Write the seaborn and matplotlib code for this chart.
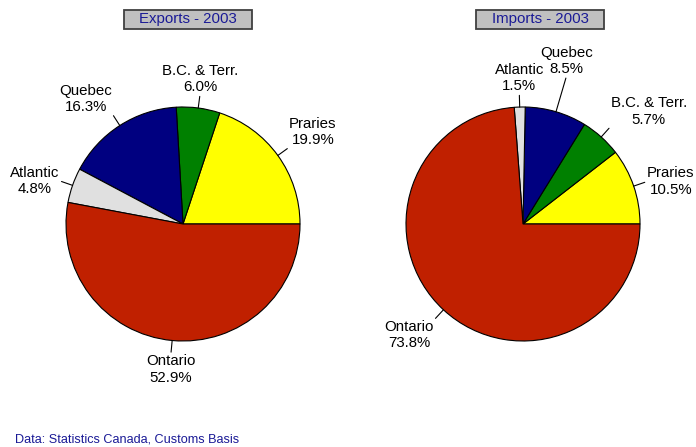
import numpy as np
import seaborn as sns
import matplotlib.pyplot as plt
from matplotlib.patches import Rectangle

# data
regions = ['Praries', 'B.C. & Terr.', 'Quebec', 'Atlantic', 'Ontario']
exports_pct = [19.9, 6.0, 16.3, 4.8, 52.9]
imports_pct = [10.5, 5.7, 8.5, 1.5, 73.8]
titles = ['Exports - 2003', 'Imports - 2003']
source = 'Data: Statistics Canada, Customs Basis'

region_colors = ['#ffff00', '#008000', '#000080', '#e0e0e0', '#c02000']
# leader line length (fraction of radius) per label
leader_exports = [0.1, 0.1, 0.1, 0.1, 0.1]
leader_imports = [0.1, 0.1, 0.3, 0.1, 0.1]

sns.set_style('white')
plt.rcParams['font.family'] = ['Liberation Sans', 'DejaVu Sans']

fig = plt.figure(figsize=(6.96, 4.47), dpi=100)
W, H = 696, 447


def px_axes(cx, cy, r):
    return fig.add_axes([(cx - r) / W, (H - cy - r) / H, 2 * r / W, 2 * r / H])


def draw_pie(ax, values, leaders):
    wedges, _ = ax.pie(values, colors=sns.color_palette(region_colors),
                       startangle=0, counterclock=True,
                       wedgeprops=dict(edgecolor='black', linewidth=0.8))
    for w in wedges:
        w.set_clip_on(False)
    ax.set_xlim(-1, 1)
    ax.set_ylim(-1, 1)
    ax.axis('off')

    for w, name, v, L in zip(wedges, regions, values, leaders):
        ang = np.deg2rad((w.theta1 + w.theta2) / 2)
        c, s = np.cos(ang), np.sin(ang)
        ax.plot([c, (1 + L) * c], [s, (1 + L) * s], color='black', lw=0.8,
                clip_on=False)
        ha = 'left' if c > 0.35 else ('right' if c < -0.35 else 'center')
        va = 'bottom' if s > 0.4 else ('top' if s < -0.4 else 'center')
        g = 1 + L + 0.02
        ax.text(g * c, g * s, f'{name}\n{v:.1f}%', ha=ha, va=va,
                multialignment='center', fontsize=10.8, color='black',
                linespacing=1.2)


ax1 = px_axes(183, 224, 117)
draw_pie(ax1, exports_pct, leader_exports)
ax2 = px_axes(523, 224, 117)
draw_pie(ax2, imports_pct, leader_imports)

# title boxes
for title, x0 in zip(titles, [123.5, 476]):
    fig.patches.append(Rectangle((x0 / W, 1 - 28.5 / H), 128 / W, 19 / H,
                                 transform=fig.transFigure, facecolor='#c0c0c0',
                                 edgecolor='#404040', linewidth=1.3))
    fig.text((x0 + 64) / W, 1 - 19 / H, title, ha='center', va='center',
             fontsize=10.8, color='#1a1a96')

fig.text(15 / W, 1 - 440 / H, source, ha='left', va='center',
         fontsize=9.1, color='#1a1a96')

fig.savefig('out.png', dpi=100)
